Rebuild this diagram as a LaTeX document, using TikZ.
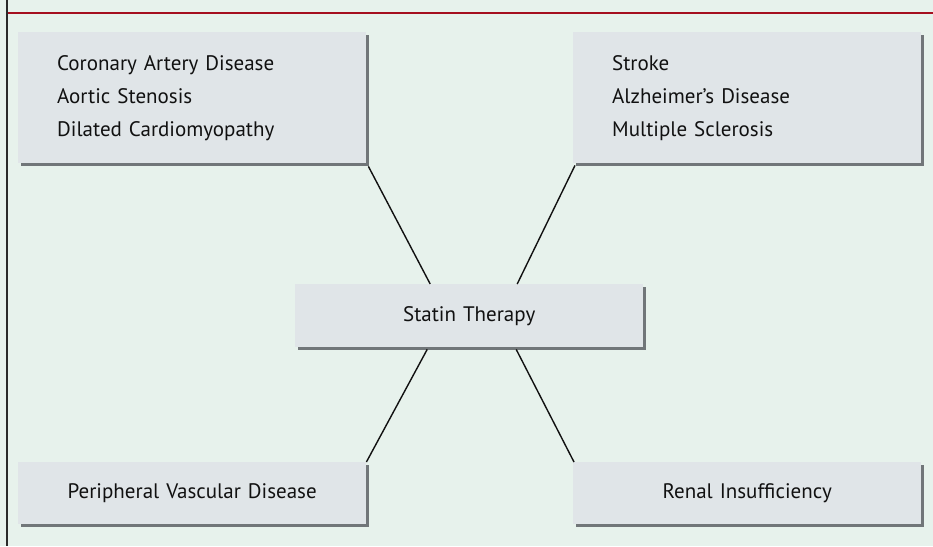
\documentclass[tikz,border=0pt]{standalone}
\usepackage{fontspec}
\setmainfont{PT Sans}
\usetikzlibrary{shadows,calc}
\definecolor{bgcol}{HTML}{E7F2EC}
\definecolor{boxcol}{HTML}{E0E5E8}
\definecolor{shadcol}{HTML}{717679}
\definecolor{redcol}{HTML}{A50F1F}
\definecolor{txtcol}{HTML}{111111}
\definecolor{bordcol}{HTML}{2A2A2A}
\tikzset{
  boxbase/.style={fill=boxcol, text=txtcol, inner ysep=0pt,
    general shadow={fill=shadcol, shadow xshift=2.5pt, shadow yshift=-2.5pt},
    font=\fontsize{21}{33}\selectfont},
  listbox/.style={boxbase, anchor=north west, text width=270pt, inner xsep=39pt,
    minimum height=131pt, align=left},
  onebox/.style={boxbase, anchor=north west, text width=348pt, inner xsep=0pt,
    minimum height=62pt, align=center},
  conn/.style={draw=txtcol, line width=1.4pt},
}
\begin{document}
\begin{tikzpicture}[x=1pt,y=-1pt]
  \fill[bgcol] (0,0) rectangle (933,546);
  \useasboundingbox (0,0) rectangle (933,546);
  \draw[bordcol, line width=2pt] (6.5,0) -- (6.5,546);
  \draw[redcol, line width=2.5pt] (7.5,13) -- (933,13);

  \node[listbox] (tl) at (18,32) {Coronary Artery Disease\\Aortic Stenosis\\Dilated Cardiomyopathy};
  \node[listbox] (tr) at (573,32) {Stroke\\Alzheimer’s Disease\\Multiple Sclerosis};
  \node[onebox, minimum height=63pt] (c) at (295,284) {Statin Therapy};
  \node[onebox] (bl) at (18,462) {Peripheral Vascular Disease};
  \node[onebox] (br) at (573,462) {Renal Insufficiency};

  \draw[conn] ([xshift=2pt,yshift=-3pt]tl.south east) -- ([xshift=-39pt]c.north);
  \draw[conn] ([xshift=2pt,yshift=-2pt]tr.south west) -- ([xshift=48pt]c.north);
  \draw[conn] ([xshift=-42pt,yshift=-2pt]c.south) -- ([xshift=0pt]bl.north east);
  \draw[conn] ([xshift=47pt,yshift=-2pt]c.south) -- ([xshift=1pt]br.north west);
\end{tikzpicture}
\end{document}
